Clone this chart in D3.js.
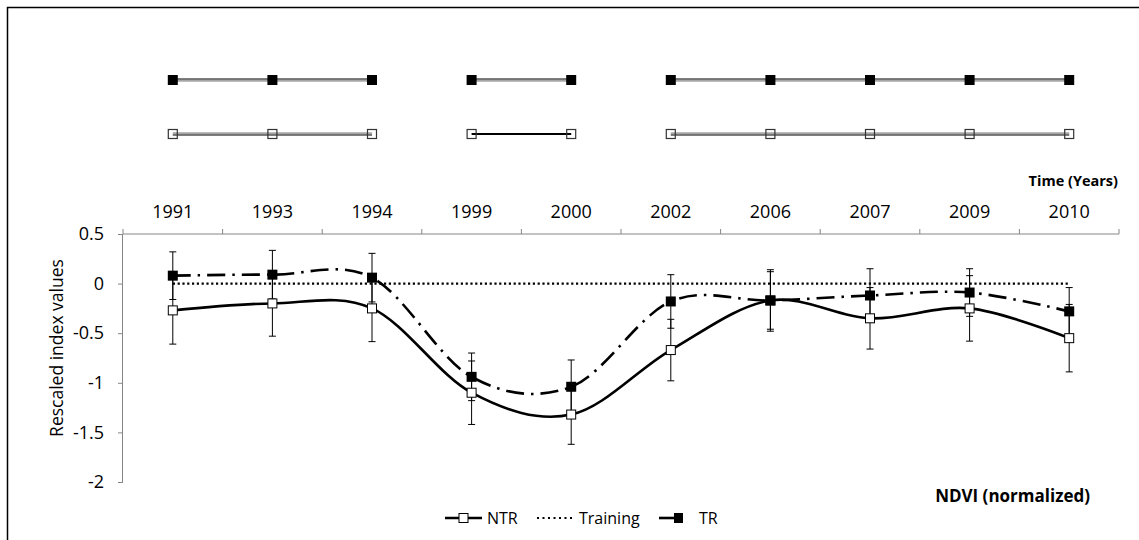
<!DOCTYPE html>
<html>
<head>
<meta charset="utf-8">
<script src="https://cdn.jsdelivr.net/npm/d3@7"></script>
<style>
  body { margin: 0; background: #fff; }
  svg text { font-family: "Open Sans", sans-serif; fill: #000; }
</style>
</head>
<body>
<div id="chart"></div>
<script>
// data
const years = ['1991', '1993', '1994', '1999', '2000', '2002', '2006', '2007', '2009', '2010'];
const ntr = [-0.27, -0.20, -0.25, -1.10, -1.32, -0.67, -0.17, -0.35, -0.25, -0.55];
const ntrErr = [0.34, 0.33, 0.335, 0.32, 0.30, 0.31, 0.31, 0.31, 0.33, 0.34];
const tr = [0.08, 0.09, 0.06, -0.94, -1.04, -0.18, -0.17, -0.12, -0.09, -0.28];
const trErr = [0.24, 0.245, 0.245, 0.24, 0.27, 0.27, 0.29, 0.27, 0.24, 0.24];
const training = [0, 0, 0, 0, 0, 0, 0, 0, 0, 0];
const yTicks = [0.5, 0, -0.5, -1, -1.5, -2];
// periods shown in the strip above the chart
const periods = [['1991', '1993', '1994'], ['1999', '2000'], ['2002', '2006', '2007', '2009', '2010']];

const W = 1139, H = 540;
const svg = d3.select('#chart').append('svg')
    .attr('width', W).attr('height', H);

// frame (left + top only)
svg.append('path')
   .attr('d', `M7.5,${H} V7.5 H${W}`)
   .attr('fill', 'none').attr('stroke', '#000').attr('stroke-width', 1.5);

const x = d3.scaleBand().domain(years).range([123, 1119]);
const cx = d => x(d) + x.bandwidth() / 2;
const y = d3.scaleLinear().domain([-2, 0.5]).range([482, 234]);

//----------------- top strip -----------------------//
const rows = [
  { y: 80, filled: true, off: -1 },
  { y: 134, filled: false, off: 1 }
];
rows.forEach(r => {
  periods.forEach(p => {
    const x1 = cx(p[0]), x2 = cx(p[p.length - 1]);
    if (!r.filled && p.length === 2) {
      svg.append('line').attr('x1', x1).attr('x2', x2).attr('y1', r.y).attr('y2', r.y)
         .attr('stroke', '#000').attr('stroke-width', 2);
    } else {
      svg.append('line').attr('x1', x1).attr('x2', x2).attr('y1', r.y).attr('y2', r.y)
         .attr('stroke', '#a6a6a6').attr('stroke-width', 3.5);
      svg.append('line').attr('x1', x1).attr('x2', x2).attr('y1', r.y + r.off).attr('y2', r.y + r.off)
         .attr('stroke', '#404040').attr('stroke-width', 1);
    }
    p.forEach(d => {
      if (r.filled) {
        svg.append('rect').attr('x', cx(d) - 5).attr('y', r.y - 5).attr('width', 10).attr('height', 10)
           .attr('fill', '#000');
      } else {
        svg.append('rect').attr('x', cx(d) - 4.5).attr('y', r.y - 4.5).attr('width', 9).attr('height', 9)
           .attr('fill', 'none').attr('stroke', '#333').attr('stroke-width', 1.2);
      }
    });
  });
});

//----------------- axes -----------------------//
const axisCol = '#868686';
// x axis at top: boundary ticks + labels centred in bands
svg.append('line').attr('x1', 123).attr('x2', 1119).attr('y1', 234).attr('y2', 234)
   .attr('stroke', axisCol).attr('stroke-width', 1);
years.concat(['end']).forEach((d, i) => {
  const xx = i < years.length ? x(d) : x.range()[1];
  svg.append('line').attr('x1', xx).attr('x2', xx).attr('y1', 229).attr('y2', 234)
     .attr('stroke', axisCol);
});
svg.selectAll('.xlab').data(years).enter().append('text')
   .attr('x', d => cx(d)).attr('y', 218)
   .attr('text-anchor', 'middle').attr('font-size', 18)
   .text(d => d);
svg.append('text').attr('x', 1118).attr('y', 186).attr('text-anchor', 'end')
   .attr('font-size', 14.5).attr('font-weight', 'bold').text('Time (Years)');

const yAxis = d3.axisLeft(y).tickValues(yTicks).tickSize(5).tickPadding(14)
    .tickFormat(d => String(d).replace('\u2212', '-'));
const yg = svg.append('g').attr('transform', 'translate(123,0)').call(yAxis);
yg.select('.domain').attr('stroke', axisCol).attr('d', `M-0.5,${y(0.5)}V${y(-2)}`);
yg.selectAll('.tick line').attr('stroke', axisCol);
yg.selectAll('.tick text').attr('font-size', 18).attr('font-family', '"Open Sans", sans-serif').attr('fill', '#000');

svg.append('text').attr('transform', 'translate(63,348) rotate(-90)')
   .attr('text-anchor', 'middle').attr('font-size', 17.5).text('Rescaled index values');

//----------------- series -----------------------//
const line = d3.line().x((d, i) => cx(years[i])).y(d => y(d)).curve(d3.curveCardinal.tension(0));

// training dotted
svg.append('path').datum(training)
   .attr('d', d3.line().x((d, i) => cx(years[i])).y(d => y(d)))
   .attr('fill', 'none').attr('stroke', '#000').attr('stroke-width', 2.2)
   .attr('stroke-dasharray', '2.2,2.6');

// error bars
const errBars = (vals, errs) => {
  vals.forEach((v, i) => {
    const xx = cx(years[i]);
    const g = svg.append('g').attr('stroke', '#000').attr('stroke-width', 1);
    g.append('line').attr('x1', xx).attr('x2', xx).attr('y1', y(v + errs[i])).attr('y2', y(v - errs[i]));
    [v + errs[i], v - errs[i]].forEach(e => {
      g.append('line').attr('x1', xx - 3.5).attr('x2', xx + 3.5).attr('y1', y(e)).attr('y2', y(e));
    });
  });
};
errBars(ntr, ntrErr);
errBars(tr, trErr);

svg.append('path').datum(ntr).attr('d', line)
   .attr('fill', 'none').attr('stroke', '#000').attr('stroke-width', 2.6);
svg.append('path').datum(tr).attr('d', line)
   .attr('fill', 'none').attr('stroke', '#000').attr('stroke-width', 2.6)
   .attr('stroke-dasharray', '18,7,2.5,7');

svg.selectAll('.ntrm').data(ntr).enter().append('rect')
   .attr('x', (d, i) => cx(years[i]) - 4.5).attr('y', d => y(d) - 4.5)
   .attr('width', 9).attr('height', 9)
   .attr('fill', '#fff').attr('stroke', '#000').attr('stroke-width', 1);
svg.selectAll('.trm').data(tr).enter().append('rect')
   .attr('x', (d, i) => cx(years[i]) - 5).attr('y', d => y(d) - 5)
   .attr('width', 10).attr('height', 10).attr('fill', '#000');

//----------------- labels & legend -----------------------//
svg.append('text').attr('x', 1090).attr('y', 502).attr('text-anchor', 'end')
   .attr('font-size', 17).attr('font-weight', 'bold').text('NDVI (normalized)');

const ly = 518;
const lg = svg.append('g');
lg.append('line').attr('x1', 445).attr('x2', 482).attr('y1', ly).attr('y2', ly)
  .attr('stroke', '#000').attr('stroke-width', 2.6);
lg.append('rect').attr('x', 459).attr('y', ly - 4.5).attr('width', 9).attr('height', 9)
  .attr('fill', '#fff').attr('stroke', '#000');
lg.append('text').attr('x', 487).attr('y', ly + 5.5).attr('font-size', 16).text('NTR');
lg.append('line').attr('x1', 537).attr('x2', 573).attr('y1', ly).attr('y2', ly)
  .attr('stroke', '#000').attr('stroke-width', 2).attr('stroke-dasharray', '2,3.5');
lg.append('text').attr('x', 579).attr('y', ly + 5.5).attr('font-size', 16).text('Training');
lg.append('line').attr('x1', 659).attr('x2', 682).attr('y1', ly).attr('y2', ly)
  .attr('stroke', '#000').attr('stroke-width', 2.6);
lg.append('rect').attr('x', 674).attr('y', ly - 5).attr('width', 9).attr('height', 10).attr('fill', '#000');
lg.append('text').attr('x', 699).attr('y', ly + 5.5).attr('font-size', 16).text('TR');
</script>
</body>
</html>
